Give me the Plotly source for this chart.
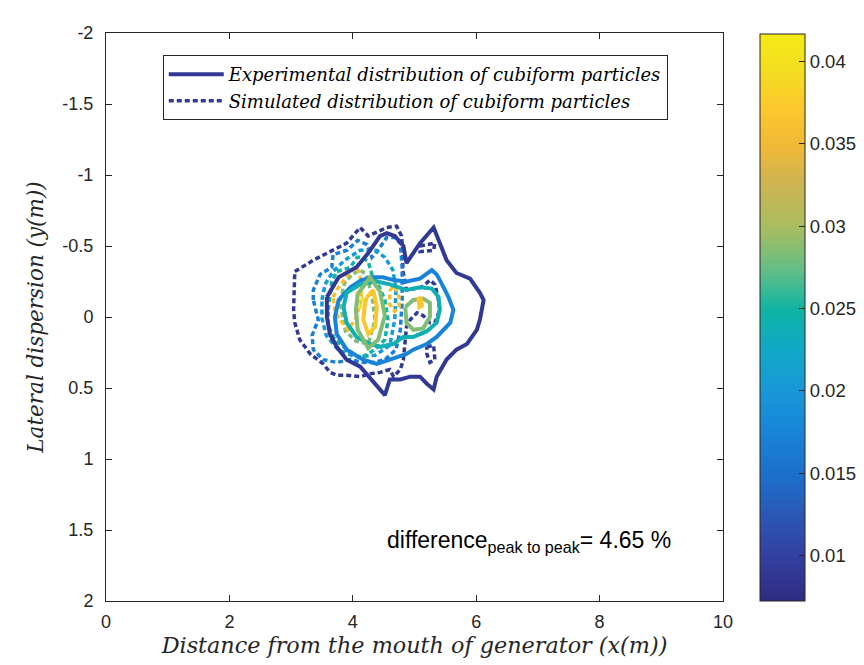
import plotly.graph_objects as go

# ---------------- data ----------------
cb_min = 0.00727
cb_max = 0.0417
cb_tickvals = [0.01, 0.015, 0.02, 0.025, 0.03, 0.035, 0.04]
cb_ticktext = ["0.01", "0.015", "0.02", "0.025", "0.03", "0.035", "0.04"]

x_tickvals = [0, 2, 4, 6, 8, 10]
y_tickvals = [-2, -1.5, -1, -0.5, 0, 0.5, 1, 1.5, 2]
y_ticktext = ["-2", "-1.5", "-1", "-0.5", "0", "0.5", "1", "1.5", "2"]

# Experimental contours (solid)
exp_l1_level = 0.0090
exp_l1_x = [3.58, 3.77, 4.06, 4.25, 4.44, 4.55, 4.68, 4.82, 4.87, 5.09, 5.31, 5.41, 5.52, 5.68, 5.90, 6.06, 6.12,
            6.06, 6.01, 5.85, 5.68, 5.52, 5.36, 5.31, 5.20, 5.09, 4.93, 4.77, 4.60, 4.52, 4.44, 4.28, 4.12, 3.90,
            3.74, 3.63, 3.58, 3.58]
exp_l1_y = [-0.14, -0.28, -0.35, -0.45, -0.57, -0.59, -0.57, -0.50, -0.38, -0.52, -0.63, -0.52, -0.40, -0.31, -0.27,
            -0.17, -0.12, 0.02, 0.09, 0.19, 0.23, 0.30, 0.42, 0.51, 0.47, 0.42, 0.42, 0.44, 0.44, 0.55, 0.51, 0.42,
            0.35, 0.30, 0.21, 0.12, 0.00, -0.14]

exp_l2_level = 0.0175
exp_l2_x = [4.87, 5.09, 5.28, 5.36, 5.47, 5.55, 5.63, 5.58, 5.36, 5.20, 4.98, 4.87, 4.60, 4.39, 4.17, 3.90, 3.74,
            3.71, 3.77, 3.96, 4.14, 4.33, 4.49, 4.66, 4.87]
exp_l2_y = [-0.25, -0.27, -0.33, -0.30, -0.21, -0.14, -0.05, 0.04, 0.14, 0.19, 0.23, 0.26, 0.30, 0.33, 0.30, 0.23,
            0.12, 0.00, -0.12, -0.21, -0.26, -0.28, -0.28, -0.26, -0.25]

exp_l3_level = 0.0240
exp_l3_x = [3.85, 3.90, 4.12, 4.39, 4.60, 4.87, 5.09, 5.28, 5.39, 5.41, 5.36, 5.20, 4.98, 4.82, 4.66, 4.44, 4.28,
            4.06, 3.90, 3.85]
exp_l3_y = [-0.07, -0.17, -0.23, -0.25, -0.23, -0.19, -0.21, -0.20, -0.14, -0.05, 0.04, 0.10, 0.14, 0.14, 0.19,
            0.21, 0.19, 0.14, 0.04, -0.07]

exp_l4a_level = 0.0285
exp_l4a_x = [4.85, 4.98, 5.14, 5.25, 5.25, 5.14, 4.98, 4.87, 4.85]
exp_l4a_y = [-0.07, -0.12, -0.13, -0.10, 0.00, 0.08, 0.09, 0.04, -0.07]

exp_l4b_level = 0.0285
exp_l4b_x = [4.08, 4.28, 4.44, 4.52, 4.41, 4.25, 4.08, 4.05, 4.08]
exp_l4b_y = [-0.16, -0.28, -0.18, -0.01, 0.16, 0.22, 0.09, -0.05, -0.16]

exp_l5a_level = 0.0370
exp_l5a_x = [4.23, 4.33, 4.39, 4.36, 4.25, 4.17, 4.20, 4.23]
exp_l5a_y = [-0.14, -0.19, -0.07, 0.07, 0.12, 0.02, -0.10, -0.14]

exp_l5b_level = 0.0370
exp_l5b_x = [5.06, 5.10, 5.12, 5.08, 5.06]
exp_l5b_y = [-0.14, -0.13, -0.08, -0.07, -0.14]

# Simulated contours (dashed)
sim_l1_level = 0.0090
sim_l1_x = [3.06, 3.36, 3.63, 3.90, 4.12, 4.25, 4.55, 4.71, 4.79, 4.81, 4.81, 4.87, 5.12, 5.25, 5.33, 5.38, 5.41,
            5.36, 5.33, 5.25, 5.14, 5.04, 4.93, 4.87, 4.85, 4.82, 4.77, 4.66, 4.60, 4.44, 4.28, 4.12, 3.90, 3.74,
            3.63, 3.52, 3.31, 3.14, 3.06, 3.04, 3.06]
sim_l1_y = [-0.32, -0.40, -0.46, -0.52, -0.63, -0.57, -0.63, -0.64, -0.57, -0.47, -0.33, -0.19, -0.21, -0.26, -0.23,
            -0.14, -0.05, 0.00, 0.04, 0.04, -0.01, -0.03, 0.02, 0.07, 0.18, 0.30, 0.37, 0.42, 0.37, 0.39, 0.40, 0.42,
            0.41, 0.41, 0.39, 0.33, 0.26, 0.16, 0.04, -0.05, -0.32]

sim_l1b_level = 0.0090
sim_l1b_x = [5.09, 5.33, 5.31, 5.09, 5.09]
sim_l1b_y = [-0.50, -0.52, -0.47, -0.46, -0.50]

sim_l1c_level = 0.0090
sim_l1c_x = [5.20, 5.31, 5.33, 5.25, 5.20, 5.20]
sim_l1c_y = [0.21, 0.20, 0.30, 0.32, 0.26, 0.21]

sim_l2_level = 0.0170
sim_l2_x = [3.36, 3.36, 3.47, 3.66, 3.68, 3.91, 4.08, 4.23, 4.31, 4.44, 4.55, 4.68, 4.77, 4.80, 4.80, 4.77, 4.70,
            4.52, 4.33, 4.17, 3.96, 3.74, 3.52, 3.36, 3.34, 3.44, 3.36]
sim_l2_y = [-0.12, -0.19, -0.30, -0.35, -0.44, -0.47, -0.54, -0.51, -0.42, -0.49, -0.56, -0.56, -0.52, -0.35, -0.12,
            0.09, 0.23, 0.30, 0.32, 0.32, 0.30, 0.32, 0.30, 0.23, 0.13, 0.02, -0.12]

sim_l3_level = 0.0205
sim_l3_x = [3.50, 3.55, 3.68, 3.87, 4.12, 4.36, 4.52, 4.65, 4.70, 4.68, 4.60, 4.36, 4.04, 3.76, 3.57, 3.50, 3.50]
sim_l3_y = [-0.12, -0.23, -0.32, -0.40, -0.47, -0.47, -0.42, -0.33, -0.19, 0.02, 0.20, 0.27, 0.28, 0.23, 0.13,
            0.01, -0.12]

sim_l4_level = 0.0250
sim_l4_x = [3.60, 3.63, 3.66, 3.74, 3.96, 4.07, 4.15, 4.25, 4.31, 4.41, 4.52, 4.57, 4.52, 4.36, 4.12, 3.91, 3.71,
            3.60, 3.60]
sim_l4_y = [-0.05, -0.17, -0.25, -0.32, -0.35, -0.42, -0.42, -0.39, -0.30, -0.23, -0.12, 0.02, 0.16, 0.23, 0.29,
            0.23, 0.16, 0.06, -0.05]

sim_l5_level = 0.0285
sim_l5_x = [3.79, 3.87, 3.99, 4.12, 4.22, 4.31, 4.36, 4.25, 4.05, 3.88, 3.79]
sim_l5_y = [-0.11, -0.24, -0.30, -0.33, -0.30, -0.15, 0.02, 0.19, 0.17, 0.10, -0.11]

sim_l6a_level = 0.0360
sim_l6a_x = [3.68, 3.74, 3.84, 3.96, 4.07, 4.12, 4.15, 4.12, 4.04, 3.92, 3.79, 3.71, 3.68]
sim_l6a_y = [-0.14, -0.19, -0.25, -0.32, -0.35, -0.28, -0.19, -0.09, 0.02, 0.09, 0.02, -0.05, -0.14]

sim_l6b_level = 0.0360
sim_l6b_x = [4.60, 4.68, 4.75, 4.75, 4.68, 4.60, 4.60]
sim_l6b_y = [-0.19, -0.22, -0.14, -0.07, -0.04, -0.09, -0.19]

sim_l7_level = 0.0410
sim_l7_x = [4.06, 4.12, 4.16, 4.12, 4.07, 4.06]
sim_l7_y = [-0.24, -0.22, -0.12, -0.06, -0.12, -0.24]

legend_exp = "Experimental distribution of cubiform particles"
legend_sim = "Simulated distribution of cubiform particles"
note_text = "difference<sub>peak to peak</sub>= 4.65 %"
note_x = 4.52
note_y = 1.58

# ---------------- styling ----------------
colorscale = [
    [0.00, "#2e2c82"], [0.08, "#3340a0"], [0.16, "#2a5ab8"], [0.22, "#1c6fca"],
    [0.30, "#1884d8"], [0.37, "#1898d8"], [0.44, "#10a8c8"], [0.515, "#10b4a4"],
    [0.58, "#60be88"], [0.66, "#aabc60"], [0.74, "#d0b450"], [0.80, "#f0b838"],
    [0.87, "#fcc82c"], [0.93, "#f4dc22"], [1.00, "#f5ea16"],
]


def hex2rgb(h):
    h = h.lstrip("#")
    return tuple(int(h[i:i + 2], 16) for i in (0, 2, 4))


def level_color(v):
    t = (v - cb_min) / (cb_max - cb_min)
    t = min(max(t, 0.0), 1.0)
    for (t0, c0), (t1, c1) in zip(colorscale[:-1], colorscale[1:]):
        if t0 <= t <= t1:
            f = (t - t0) / (t1 - t0) if t1 > t0 else 0
            a, b = hex2rgb(c0), hex2rgb(c1)
            r = [round(a[i] + (b[i] - a[i]) * f) for i in range(3)]
            return "rgb(%d,%d,%d)" % tuple(r)
    return colorscale[-1][1]


exp_sets = [
    (exp_l1_x, exp_l1_y, exp_l1_level),
    (exp_l2_x, exp_l2_y, exp_l2_level),
    (exp_l3_x, exp_l3_y, exp_l3_level),
    (exp_l4a_x, exp_l4a_y, exp_l4a_level),
    (exp_l4b_x, exp_l4b_y, exp_l4b_level),
    (exp_l5a_x, exp_l5a_y, exp_l5a_level),
    (exp_l5b_x, exp_l5b_y, exp_l5b_level),
]
sim_sets = [
    (sim_l1_x, sim_l1_y, sim_l1_level),
    (sim_l1b_x, sim_l1b_y, sim_l1b_level),
    (sim_l1c_x, sim_l1c_y, sim_l1c_level),
    (sim_l2_x, sim_l2_y, sim_l2_level),
    (sim_l3_x, sim_l3_y, sim_l3_level),
    (sim_l4_x, sim_l4_y, sim_l4_level),
    (sim_l5_x, sim_l5_y, sim_l5_level),
    (sim_l6a_x, sim_l6a_y, sim_l6a_level),
    (sim_l6b_x, sim_l6b_y, sim_l6b_level),
    (sim_l7_x, sim_l7_y, sim_l7_level),
]

SERIF = "DejaVu Serif, Liberation Serif, serif"
SANS = "Liberation Sans, Arial, sans-serif"

fig = go.Figure()

for i, (xs, ys, lv) in enumerate(sim_sets):
    fig.add_trace(go.Scatter(
        x=xs, y=ys, mode="lines",
        line=dict(color=level_color(lv), width=3.5, dash="5px,3px"),
        name="<i>" + legend_sim + "</i>", legendgroup="sim", showlegend=(i == 0), legendrank=2,
        hoverinfo="skip"))

for i, (xs, ys, lv) in enumerate(exp_sets):
    fig.add_trace(go.Scatter(
        x=xs, y=ys, mode="lines",
        line=dict(color=level_color(lv), width=4),
        name="<i>" + legend_exp + "</i>", legendgroup="exp", showlegend=(i == 0), legendrank=1,
        hoverinfo="skip"))

# colour bar carrier
fig.add_trace(go.Scatter(
    x=[None], y=[None], mode="markers", showlegend=False, hoverinfo="skip",
    marker=dict(color=[cb_min], colorscale=colorscale, cmin=cb_min, cmax=cb_max,
                showscale=True,
                colorbar=dict(x=(760 - 106) / 617, xanchor="left", y=0.5, yanchor="middle",
                              xpad=0, ypad=0,
                              lenmode="pixels", len=567, thicknessmode="pixels", thickness=45,
                              outlinewidth=1, outlinecolor="#262626",
                              tickvals=cb_tickvals, ticktext=cb_ticktext,
                              ticks="inside", ticklen=6, tickcolor="#262626",
                              tickfont=dict(family=SANS, size=18.5, color="#262626")))))

fig.add_annotation(x=note_x, y=note_y, xref="x", yref="y", text=note_text, showarrow=False,
                   xanchor="left", yanchor="middle",
                   font=dict(family=SANS, size=23, color="black"))

axis_common = dict(showgrid=False, zeroline=False, showline=True, linecolor="#262626", linewidth=1,
                   mirror="ticks", ticks="inside", ticklen=6, tickcolor="#262626",
                   tickfont=dict(family=SANS, size=18, color="#262626"))

fig.update_layout(
    width=864, height=665,
    margin=dict(l=106, r=141, t=33, b=64, autoexpand=False),
    plot_bgcolor="white", paper_bgcolor="white",
    xaxis=dict(range=[0, 10], tickvals=x_tickvals, ticklabelstandoff=4,
               title=dict(text="<i>Distance from the mouth of generator (x(m))</i>", standoff=4,
                          font=dict(family=SERIF, size=22.3, color="#262626")),
               **axis_common),
    yaxis=dict(range=[2, -2], tickvals=y_tickvals, ticktext=y_ticktext, ticklabelstandoff=8,
               title=dict(text="<i>Lateral dispersion (y(m))</i>", standoff=12,
                          font=dict(family=SERIF, size=21.5, color="#262626")),
               **axis_common),
    legend=dict(x=0.092, y=0.961, xanchor="left", yanchor="top",
                bgcolor="white", bordercolor="#262626", borderwidth=1,
                itemwidth=55, tracegroupgap=0,
                font=dict(family=SERIF, size=18, color="black")),
    showlegend=True,
)

fig.write_html("out.html")
